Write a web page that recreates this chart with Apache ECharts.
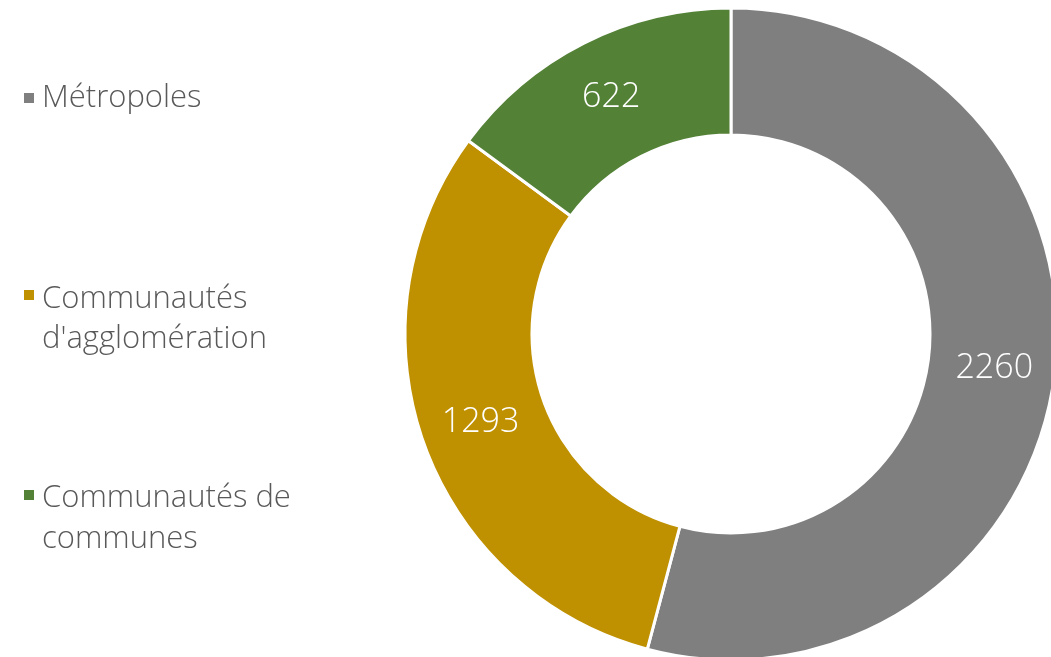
<!DOCTYPE html>
<html>
<head>
<meta charset="utf-8">
<script src="https://cdn.jsdelivr.net/npm/echarts@6/dist/echarts.min.js"></script>
<style>
  html, body { margin: 0; padding: 0; background: #ffffff; }
  #chart { width: 1051px; height: 657px; }
</style>
</head>
<body>
<div id="chart"></div>
<script>
const categories = ['Métropoles', "Communautés\nd'agglomération", 'Communautés de\ncommunes'];
const values = [2260, 1293, 622];
const sliceColors = ['#7F7F7F', '#BF9000', '#538135'];

const fontName = 'Open Sans';
// square at top of a tall box so icon lines up with the first text line
const tallIcon = 'path://M0,0H10V10H0Z M0,49.9H0.1V50H0Z';

const legendBase = {
  orient: 'vertical',
  left: 17,
  itemGap: 0,
  selectedMode: false,
  textStyle: {
    fontFamily: fontName,
    fontWeight: 300,
    fontSize: 31,
    color: '#595959',
    lineHeight: 40,
    padding: [0, 0, 0, 2],
  },
};

const chart = echarts.init(document.getElementById('chart'), null, { renderer: 'canvas' });

chart.setOption({
  backgroundColor: '#ffffff',
  animation: false,
  color: sliceColors,
  legend: [
    Object.assign({}, legendBase, {
      top: 73,
      data: [categories[0]],
      icon: 'rect',
      itemWidth: 12,
      itemHeight: 12,
    }),
    Object.assign({}, legendBase, {
      top: 274,
      data: [categories[1]],
      icon: tallIcon,
      itemWidth: 12,
      itemHeight: 60,
    }),
    Object.assign({}, legendBase, {
      top: 473,
      data: [categories[2]],
      icon: tallIcon,
      itemWidth: 12,
      itemHeight: 60,
      textStyle: Object.assign({}, legendBase.textStyle, { lineHeight: 41 }),
    }),
  ],
  series: [
    {
      type: 'pie',
      center: [731, 334],
      radius: [199, 326],
      startAngle: 90,
      clockwise: true,
      silent: true,
      itemStyle: {
        borderColor: '#ffffff',
        borderWidth: 3,
      },
      label: {
        show: true,
        position: 'inside',
        formatter: '{c}',
        color: '#ffffff',
        fontFamily: fontName,
        fontWeight: 300,
        fontSize: 34,
      },
      labelLine: { show: false },
      data: categories.map((name, i) => ({ name: name, value: values[i] })),
    },
  ],
});
</script>
</body>
</html>
